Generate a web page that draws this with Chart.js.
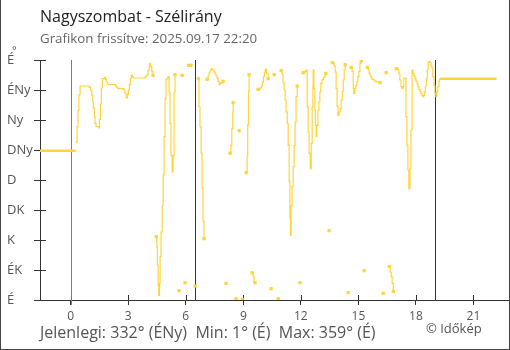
<!DOCTYPE html>
<html>
<head>
<meta charset="utf-8">
<script src="https://cdn.jsdelivr.net/npm/chart.js@4/dist/chart.umd.min.js"></script>
<style>
  html, body { margin: 0; padding: 0; background: #fff; }
  #wrap { position: relative; width: 510px; height: 350px; overflow: hidden; font-family: "Open Sans", sans-serif; }
  #c { position: absolute; left: 0; top: 0; }
  .t { position: absolute; white-space: pre; line-height: 1; }
  #title { left: 40px; top: 8px; font-size: 16px; color: #222; }
  #sub { left: 40px; top: 32px; font-size: 13.3px; color: #666; }
  #deg { left: 12px; top: 44px; font-size: 11px; color: #555; }
  #foot { left: 40px; top: 324px; font-size: 16px; color: #555; }
  #copy { left: 426px; top: 322px; font-size: 13px; color: #555; }
  #frame { position: absolute; left: 0; top: 0; width: 510px; height: 350px; box-sizing: border-box;
           border-left: 1px solid #444; border-right: 1px solid #444; border-bottom: 1px solid #444; pointer-events: none; }
</style>
</head>
<body>
<div id="wrap">
  <canvas id="c" width="510" height="350"></canvas>
  <div class="t" id="title">Nagyszombat - Szélirány</div>
  <div class="t" id="sub">Grafikon frissítve: 2025.09.17 22:20</div>
  <div class="t" id="deg">°</div>
  <div class="t" id="foot">Jelenlegi: 332° (ÉNy)  Min: 1° (É)  Max: 359° (É)</div>
  <div class="t" id="copy">© Időkép</div>
  <div id="frame"></div>
</div>
<script>
// ---- data (hours relative to midnight, direction in degrees) ----
const dirLabels = ["É", "ÉK", "K", "DK", "D", "DNy", "Ny", "ÉNy", "É"];
const yTickValues = [0, 45, 90, 135, 180, 225, 270, 315, 360];
const xTickValues = [0, 3, 6, 9, 12, 15, 18, 21];
const xMin = -1.6, xMax = 22.8;

const nowHour = 0;               // blue line
const sunHours = [6.47, 18.99];  // dark lines

const prevTimes = [-1.6, 0.26];
const prevDirs = [224, 224];
const lastTimes = [19.23, 22.2];
const lastDirs = [332, 332];

const times = [
  0.26,0.33,0.38,0.43,0.49,0.96,1.04,1.10,1.15,1.18,1.24,1.27,1.32,1.48,1.50,1.55,1.60,1.65,1.76,1.81,1.86,1.91,1.98,2.33,2.40,2.45,2.78,2.83,2.89,2.96,3.01,3.06,3.11,3.16,3.22,3.27,3.86,3.91,3.98,4.03,4.09,4.12,4.17,4.23,4.29,
  4.37,
  4.46,4.49,4.52,4.56,4.59,4.63,4.66,4.71,4.77,4.82,4.87,4.92,4.97,5.03,5.08,5.13,5.18,5.23,5.29,5.34,5.39,5.44,
  5.55, 5.65, 5.73, 5.81, 5.88, 5.96, 6.05, 6.15, 6.27, 6.38, 6.49, 6.57,
  6.66,6.69,6.74,6.80,6.85,6.90,6.95,
  7.03,
  7.11,7.16,7.22,7.27,7.32,7.37,7.42,7.48,7.53,7.58,7.64,7.69,7.74,7.79,7.85,7.95,
  8.02, 8.10, 8.20,
  8.31,8.35,8.40,8.45,8.47,
  8.55, 8.62, 8.70, 8.78, 8.86, 8.94, 9.05,
  9.15,9.20,9.23,9.27,9.30,
  9.38,
  9.46,9.51,9.56,9.61,
  9.69,
  9.77,9.87,9.94,9.99,10.05,10.10,10.15,10.21,10.29,
  10.37, 10.45, 10.53, 10.61, 10.71, 10.82, 10.90,
  10.97,11.02,11.07,11.13,11.18,11.23,11.29,11.34,11.39,11.43,11.46,11.49,11.54,11.60,11.65,11.70,11.75,11.81,
  11.88, 11.96, 12.04,
  12.12,12.22,12.28,12.33,12.38,12.43,12.49,12.54,12.59,12.63,12.64,12.68,12.73,12.76,12.80,12.83,12.89,12.94,12.99,13.04,13.11,13.18,13.24,13.30,
  13.38, 13.47, 13.55,
  13.63,13.68,13.74,13.79,13.84,13.89,13.94,13.99,14.05,14.10,14.16,14.21,14.26,14.31,
  14.39, 14.47, 14.55,
  14.62,14.67,14.73,14.76,14.81,14.87,14.92,14.97,15.02,15.08,15.15,
  15.22, 15.30, 15.38,
  15.46,15.51,15.56,15.61,15.67,15.72,15.77,15.86,15.94,16.13,
  16.21, 16.29, 16.37, 16.45, 16.53,
  16.61,16.66,16.71,16.76,16.82,
  16.90,
  16.97,17.00,17.06,17.11,17.16,17.22,17.27,17.32,17.37,17.42,17.48,17.53,17.58,17.63,17.69,17.74,17.80,17.84,17.90,17.95,18.00,18.05,18.10,18.15,18.21,18.26,18.31,18.36,18.41,18.44,18.49,18.54,18.59,18.64,18.69,18.73,18.78,18.83,18.88,18.94,18.99,19.04,19.09,19.14,19.20,19.23
];
const dirs = [
  236,260,284,308,321,319,314,307,297,288,275,265,260,258,271,294,318,332,334,331,327,324,323,321,319,317,315,310,303,308,315,323,332,337,335,333,334,336,338,344,350,355,350,343,337,
  null,
  95,80,52,22,7,25,65,102,141,188,245,302,331,333,335,312,265,217,192,217,312,338,
  null, 14, null, 337, null, 26, null, 352, 352, null, 21, null,
  332,290,260,220,168,118,92,
  null,
  331,336,341,345,347,346,345,342,339,336,332,328,323,325,326,328,
  null, 25, null,
  220,232,257,282,296,
  null, 2, null, 254, null, 1, null,
  191,216,263,313,338,
  null,
  41,35,27,26,
  null,
  316,318,321,327,335,342,346,340,332,
  null, 17, null, 338, null, 2, null,
  344,339,326,315,300,282,265,232,178,123,97,141,170,200,232,267,305,321,
  null, 26, null,
  341,343,345,290,252,220,197,235,290,320,345,317,285,262,245,262,285,297,312,325,331,334,336,340,
  null, 104, null,
  356,355,351,342,317,290,277,282,287,300,313,330,345,353,
  null, 11, null,
  349,343,317,310,317,322,327,335,343,355,359,
  null, 44, null,
  349,345,340,336,333,331,330,328,327,326,
  null, 10, null, 341, null,
  50,42,35,25,13,
  null,
  347,348,345,340,330,320,317,320,333,333,275,232,195,167,197,255,345,340,336,332,328,324,320,316,313,310,307,305,307,312,320,332,345,357,358,356,352,348,335,322,310,305,312,320,328,332
];

// ---- styles ----
const YELLOW = '#ffd43b';
const AXIS = '#333';
const LABEL = '#555';
const FONT = '"Open Sans", sans-serif';

const toXY = (ts, ds) => ts.map((t, i) => ({ x: t, y: ds[i] }));

const overlay = {
  id: 'overlay',
  beforeDatasetsDraw(chart) {
    const { ctx, chartArea: a, scales: { x, y } } = chart;
    const al = v => Math.round(v) + 0.5;
    ctx.save();
    ctx.lineWidth = 1;
    ctx.strokeStyle = AXIS;
    ctx.beginPath();
    x.ticks.forEach(t => { const px = al(x.getPixelForValue(t.value)); ctx.moveTo(px, a.bottom); ctx.lineTo(px, a.bottom - 5); });
    y.ticks.forEach(t => { const py = al(y.getPixelForValue(t.value)); ctx.moveTo(a.left, py); ctx.lineTo(a.left + 6, py); });
    sunHours.forEach(h => { const px = al(x.getPixelForValue(h)); ctx.moveTo(px, a.top); ctx.lineTo(px, a.bottom); });
    ctx.stroke();
    ctx.strokeStyle = '#3a8fd0';
    ctx.beginPath();
    const bx = al(x.getPixelForValue(nowHour));
    ctx.moveTo(bx, a.top); ctx.lineTo(bx, a.bottom + 5);
    ctx.stroke();
    ctx.restore();
  }
};

new Chart(document.getElementById('c'), {
  type: 'line',
  data: {
    datasets: [
      { data: toXY(prevTimes, prevDirs), borderColor: YELLOW, borderWidth: 2.5, pointRadius: 0 },
      {
        data: toXY(times, dirs), borderColor: YELLOW, borderWidth: 1.2, stepped: 'before', spanGaps: false,
        pointStyle: 'rect', pointBackgroundColor: YELLOW, pointBorderWidth: 0,
        pointRadius: c => {
          const i = c.dataIndex;
          return (dirs[i] !== null && (dirs[i - 1] === null || dirs[i + 1] === null)) ? 2.3 : 0;
        }
      },
      { data: toXY(lastTimes, lastDirs), borderColor: YELLOW, borderWidth: 2.5, pointRadius: 0 }
    ]
  },
  options: {
    responsive: false,
    animation: false,
    devicePixelRatio: 1,
    layout: { padding: { left: 7, top: 60, right: 2, bottom: 0 } },
    plugins: { legend: { display: false }, tooltip: { enabled: false }, title: { display: false } },
    scales: {
      x: {
        type: 'linear', min: xMin, max: xMax,
        afterBuildTicks: s => { s.ticks = xTickValues.map(v => ({ value: v })); },
        afterFit: s => { s.height = 50; },
        grid: { drawOnChartArea: false, tickLength: 5, color: AXIS, tickColor: AXIS },
        border: { color: AXIS, width: 1 },
        ticks: { color: LABEL, font: { size: 12, family: FONT }, padding: 4, maxRotation: 0, autoSkip: false }
      },
      y: {
        type: 'linear', min: 0, max: 360,
        afterBuildTicks: s => { s.ticks = yTickValues.map(v => ({ value: v })); },
        afterFit: s => { s.width = 33; },
        grid: { drawOnChartArea: false, tickLength: 6, color: AXIS, tickColor: AXIS },
        border: { color: AXIS, width: 1 },
        ticks: {
          color: LABEL, font: { size: 13, family: FONT }, crossAlign: 'far', autoSkip: false,
          callback: v => dirLabels[yTickValues.indexOf(v)]
        }
      }
    }
  },
  plugins: [overlay]
});
</script>
</body>
</html>
